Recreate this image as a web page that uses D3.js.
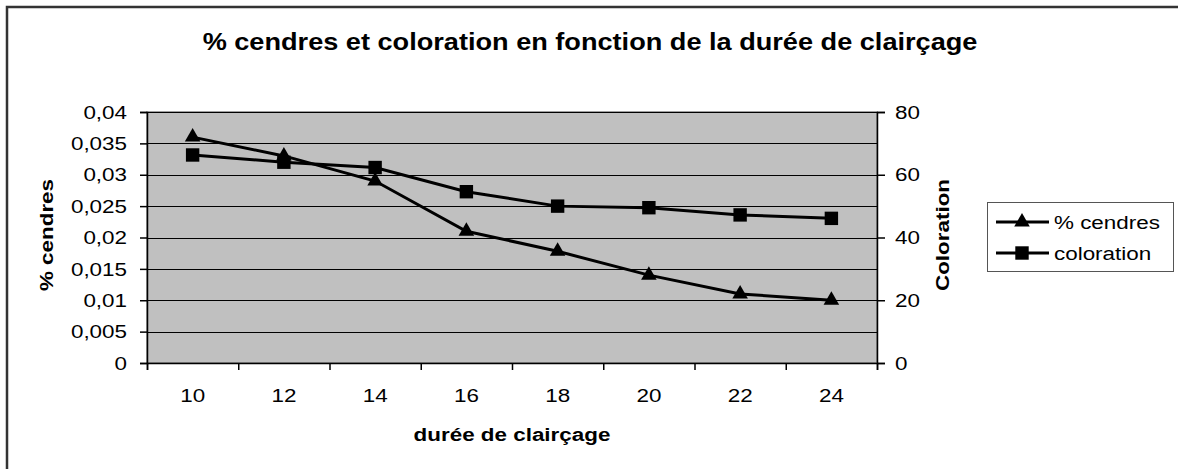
<!DOCTYPE html>
<html>
<head>
<meta charset="utf-8">
<script src="https://cdn.jsdelivr.net/npm/d3@7"></script>
<style>
html,body{margin:0;padding:0;background:#fff;}
svg{display:block;font-family:"Liberation Sans",Arial,sans-serif;}
</style>
</head>
<body>
<svg id="chart" width="1178" height="469"></svg>
<script>
const categories = ["10","12","14","16","18","20","22","24"];
const cendres = [0.036, 0.033, 0.029, 0.021, 0.0178, 0.014, 0.011, 0.010];
const coloration = [66.3, 64, 62.3, 54.6, 50, 49.5, 47.2, 46.1];
const leftTicks = [0,0.005,0.01,0.015,0.02,0.025,0.03,0.035,0.04];
const rightTicks = [0,20,40,60,80];
const seriesNames = ["% cendres","coloration"];

const svg = d3.select("#chart");
const W = 1178, H = 469;
const plot = {left:147, right:877, top:112, bottom:363};
const SX = 1.18; // horizontal stretch of the original text

function txt(x, y, s, opts){
  opts = opts || {};
  const rot = opts.rot ? ` rotate(${opts.rot})` : "";
  return svg.append("text")
    .attr("transform", `translate(${x},${y})${rot} scale(${SX},1)`)
    .attr("text-anchor", opts.anchor || "start")
    .attr("font-size", opts.size || 19)
    .attr("font-weight", opts.bold ? "bold" : "normal")
    .attr("fill", "#000")
    .text(s);
}

// outer frame
svg.append("rect").attr("x",7).attr("y",7).attr("width",W+10).attr("height",H+10)
  .attr("fill","#fff").attr("stroke","#333").attr("stroke-width",2.5);

const x = d3.scaleBand().domain(categories).range([plot.left, plot.right]);
const yL = d3.scaleLinear().domain([0,0.04]).range([plot.bottom, plot.top]);
const yR = d3.scaleLinear().domain([0,80]).range([plot.bottom, plot.top]);
const fmt = d => String(+d.toFixed(3)).replace(".", ",");

// plot background
svg.append("rect").attr("x",plot.left).attr("y",plot.top)
  .attr("width",plot.right-plot.left).attr("height",plot.bottom-plot.top)
  .attr("fill","#c0c0c0").attr("stroke","#808080").attr("stroke-width",1.5);

// gridlines
svg.append("g").selectAll("line").data(leftTicks.filter(d=>d>0)).join("line")
  .attr("x1",plot.left).attr("x2",plot.right)
  .attr("y1",d=>Math.round(yL(d))+0.5).attr("y2",d=>Math.round(yL(d))+0.5)
  .attr("stroke","#000").attr("stroke-width",1);

// axes (lines & ticks)
const gL = svg.append("g").attr("transform",`translate(${plot.left},0)`)
  .call(d3.axisLeft(yL).tickValues(leftTicks).tickFormat("").tickSize(7));
const gR = svg.append("g").attr("transform",`translate(${plot.right},0)`)
  .call(d3.axisRight(yR).tickValues(rightTicks).tickFormat("").tickSize(8));
const xb = d3.scaleLinear().domain([0,categories.length]).range([plot.left, plot.right]);
const gB = svg.append("g").attr("transform",`translate(0,${plot.bottom})`)
  .call(d3.axisBottom(xb).tickValues(d3.range(categories.length+1)).tickFormat("").tickSize(7));
[gL,gR,gB].forEach(g=>{
  g.selectAll(".domain").attr("stroke","#000").attr("stroke-width",1.5);
  g.selectAll(".tick line").attr("stroke","#000").attr("stroke-width",1.5);
});

// tick labels
leftTicks.forEach(v=>txt(127, yL(v)+6.7, fmt(v), {anchor:"end"}));
rightTicks.forEach(v=>txt(895, yR(v)+6.7, String(v)));
categories.forEach(c=>txt(x(c)+x.bandwidth()/2, 402, c, {anchor:"middle"}));

// title & axis titles
txt(590, 50, "% cendres et coloration en fonction de la durée de clairçage", {anchor:"middle", size:23, bold:true});
txt(512, 441, "durée de clairçage", {anchor:"middle", bold:true});
txt(53, 235, "% cendres", {anchor:"middle", bold:true, rot:-90});
txt(949, 235, "Coloration", {anchor:"middle", bold:true, rot:-90});

const cx = d=>x(d)+x.bandwidth()/2;
const tri = d3.symbol().type(d3.symbolTriangle).size(105);
const sq = d3.symbol().type(d3.symbolSquare).size(180);

function drawSeries(vals, y, sym){
  const pts = categories.map((c,i)=>[cx(c), y(vals[i])]);
  svg.append("path").attr("d", d3.line()(pts)).attr("fill","none")
    .attr("stroke","#000").attr("stroke-width",3);
  svg.append("g").selectAll("path").data(pts).join("path")
    .attr("transform",d=>`translate(${d[0]},${d[1]})`).attr("d",sym).attr("fill","#000");
}
drawSeries(coloration, yR, sq);
drawSeries(cendres, yL, tri);

// legend
svg.append("rect").attr("x",987.5).attr("y",202.5).attr("width",186).attr("height",69)
  .attr("fill","#fff").attr("stroke","#555").attr("stroke-width",1);
[[tri,222],[sq,253]].forEach(([s,yy],i)=>{
  svg.append("line").attr("x1",996).attr("x2",1049).attr("y1",yy).attr("y2",yy)
    .attr("stroke","#000").attr("stroke-width",3);
  svg.append("path").attr("transform",`translate(1022,${yy})`).attr("d",s).attr("fill","#000");
  txt(1054, yy+6.5, seriesNames[i]);
});
</script>
</body>
</html>
